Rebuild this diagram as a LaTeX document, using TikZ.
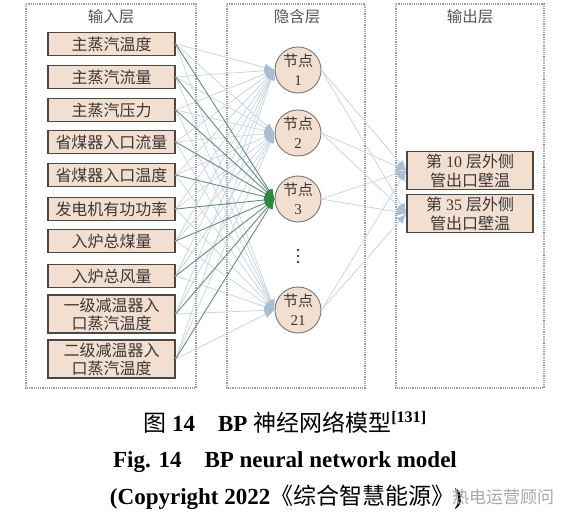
\documentclass[tikz,border=0pt]{standalone}
\usepackage{fontspec}
\setmainfont{Liberation Serif}
\newfontfamily\cjk{Noto Sans CJK SC}
\usepackage{xcolor}
\usetikzlibrary{positioning, arrows.meta, shapes.geometric, calc}
\definecolor{boxfill}{HTML}{F3DFCF}
\definecolor{boxline}{HTML}{4B4743}
\definecolor{thinedge}{HTML}{CAD6E1}
\definecolor{tipblue}{HTML}{A9BED4}
\definecolor{greenedge}{HTML}{5F8E7E}
\definecolor{greentip}{HTML}{2E8B3A}
\definecolor{layerline}{HTML}{9C9C9C}
\definecolor{labelgray}{HTML}{555555}

\begin{document}
\begin{tikzpicture}[x=1pt, y=-1pt,
    layer/.style={draw=layerline, densely dotted, line width=1.2pt},
    layertitle/.style={text=labelgray, font=\fontsize{15.5}{17}\selectfont\cjk},
    inbox/.style={rectangle, draw=boxline, fill=boxfill, line width=1.3pt,
        minimum width=127pt, minimum height=23pt, inner sep=0pt, align=center,
        text=black!78, font=\fontsize{16}{18}\selectfont\cjk},
    hid/.style={circle, draw=boxline!75, fill=boxfill, line width=0.9pt,
        minimum size=46pt, inner sep=0pt, align=center, text=black!78,
        font=\fontsize{15}{19}\selectfont},
    outbox/.style={rectangle, draw=boxline, fill=boxfill, line width=1.3pt,
        minimum width=126pt, minimum height=38pt, inner sep=0pt, align=center,
        text=black!78, font=\fontsize{16}{19}\selectfont},
    wire/.style={draw=thinedge, line width=0.8pt,
        -{Latex[length=10pt, width=8pt, color=tipblue]}},
    greenwire/.style={draw=greenedge, line width=0.9pt,
        -{Latex[length=10pt, width=8pt, color=greentip]}},
    caption/.style={font=\fontsize{23}{26}\selectfont\bfseries}
  ]
    \useasboundingbox (0,0) rectangle (571,521);

    % layer frames
    \draw[layer] (26,4) rectangle (196,388);
    \draw[layer] (227,4) rectangle (365,388);
    \draw[layer] (396,4) rectangle (544,388);
    \node[layertitle] (TIn) at (111,17) {输入层};
    \node[layertitle] (THid) at (297,17) {隐含层};
    \node[layertitle] (TOut) at (470,17) {输出层};

    % input layer
    \node[inbox] (In1) at (111.5,44) {主蒸汽温度};
    \node[inbox] (In2) at (111.5,77) {主蒸汽流量};
    \node[inbox] (In3) at (111.5,110) {主蒸汽压力};
    \node[inbox] (In4) at (111.5,142) {省煤器入口流量};
    \node[inbox] (In5) at (111.5,175) {省煤器入口温度};
    \node[inbox] (In6) at (111.5,209) {发电机有功功率};
    \node[inbox] (In7) at (111.5,241) {入炉总煤量};
    \node[inbox] (In8) at (111.5,276) {入炉总风量};
    \node[inbox, minimum height=38pt] (In9) at (111.5,314) {一级减温器入\\口蒸汽温度};
    \node[inbox, minimum height=38pt] (In10) at (111.5,359) {二级减温器入\\口蒸汽温度};

    % hidden layer
    \node[hid] (H1) at (298,70) {{\cjk 节点}\\1};
    \node[hid] (H2) at (298,133) {{\cjk 节点}\\2};
    \node[hid] (H3) at (298,199) {{\cjk 节点}\\3};
    \node[hid] (H21) at (298,310) {{\cjk 节点}\\21};
    \foreach \y in {250,256,262}
      \fill[black!75] (298,\y) circle (1.3pt);

    % output layer
    \node[outbox] (Out1) at (470,170.5) {{\cjk 第} 10 {\cjk 层外侧}\\{\cjk 管出口壁温}};
    \node[outbox] (Out2) at (470,213.5) {{\cjk 第} 35 {\cjk 层外侧}\\{\cjk 管出口壁温}};

    % connections
    \foreach \i in {1,...,10}
      \foreach \h in {H1,H2,H21}
        \draw[wire] (In\i.east) -- (\h.west);
    \foreach \h in {H1,H2,H3,H21}
      \foreach \o in {Out1,Out2}
        \draw[wire] (\h.east) -- (\o.west);
    \foreach \i in {1,...,10}
      \draw[greenwire] (In\i.east) -- (H3.west);

    % caption
    \node[caption] (Cap1) at (285,422) {{\cjk\mdseries 图} 14\quad BP {\cjk\mdseries 神经网络模型}\textsuperscript{[131]}};
    \node[caption] (Cap2) at (285,462) {Fig. 14\quad BP neural network model};
    \node[caption] (Cap3) at (286,497) {(Copyright 2022{\cjk\mdseries 《综合智慧能源》})};
    \node[text=black!35, font=\fontsize{17}{19}\selectfont\cjk] (Mark) at (503,497) {热电运营顾问};
\end{tikzpicture}
\end{document}
